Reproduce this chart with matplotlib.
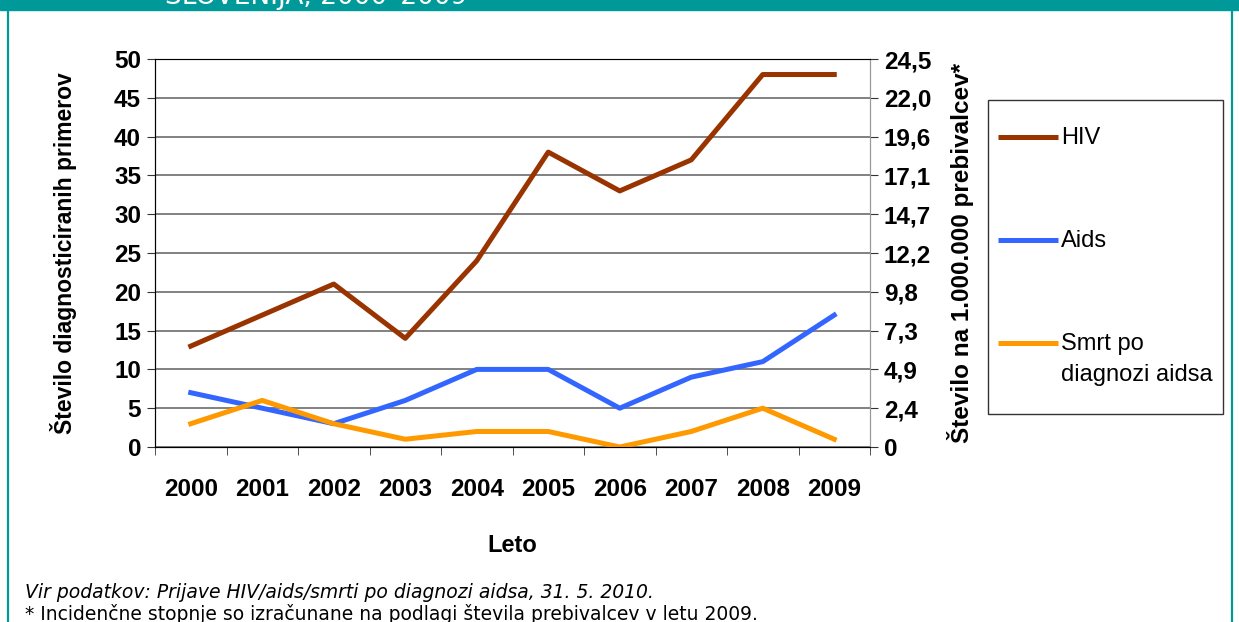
import numpy as np
import matplotlib
matplotlib.use('Agg')
from matplotlib import pyplot as plt
from matplotlib.lines import Line2D
from matplotlib.patches import Rectangle

# podatki
leta = ['2000', '2001', '2002', '2003', '2004', '2005', '2006', '2007', '2008', '2009']
hiv = [13, 17, 21, 14, 24, 38, 33, 37, 48, 48]
aids = [7, 5, 3, 6, 10, 10, 5, 9, 11, 17]
smrt = [3, 6, 3, 1, 2, 2, 0, 2, 5, 1]
levo_ticks = [0, 5, 10, 15, 20, 25, 30, 35, 40, 45, 50]
desno_labels = ['0', '2,4', '4,9', '7,3', '9,8', '12,2', '14,7', '17,1', '19,6', '22,0', '24,5']
imena = ['HIV', 'Aids', 'Smrt po\ndiagnozi aidsa']
barve = ['#993300', '#3366FF', '#FF9900']

plt.rcParams['font.family'] = ['Liberation Sans', 'DejaVu Sans']

W, H = 1239, 622
fig = plt.figure(figsize=(W / 100, H / 100), dpi=100)

def fx(px):
    return px / W

def fy(py):
    return 1 - py / H

# okvir strani
teal = '#009999'
fig.add_artist(Rectangle((0, fy(10)), 1, 10 / H, transform=fig.transFigure, color=teal, zorder=0))
fig.add_artist(Line2D([fx(8), fx(8)], [0, 1], transform=fig.transFigure, color=teal, lw=1.6))
fig.add_artist(Line2D([fx(1232), fx(1232)], [0, 1], transform=fig.transFigure, color=teal, lw=1.6))
fig.text(fx(165), fy(4), 'SLOVENIJA, 2000–2009', color='white', fontsize=19,
         family='DejaVu Sans', va='baseline', ha='left')

ax = fig.add_axes([fx(155), fy(447), fx(870) - fx(155), (447 - 59) / H])
x = np.arange(len(leta))
for serija, barva in zip([hiv, aids, smrt], barve):
    ax.plot(x, serija, color=barva, lw=3.6, zorder=3)

fs = 17.5
ax.set_xlim(-0.5, len(leta) - 0.5)
ax.set_ylim(0, 50)
ax.set_yticks(levo_ticks)
ax.set_xticks(x)
ax.set_xticklabels(leta, fontsize=fs, fontweight='bold')
ax.set_xticks(np.arange(-0.5, len(leta)), minor=True)
ax.tick_params(axis='x', which='major', length=0, pad=22)
ax.tick_params(axis='x', which='minor', length=6, color='#333333', direction='out')
ax.tick_params(axis='y', length=6, color='#333333', labelsize=fs, pad=4)
for lab in ax.get_yticklabels():
    lab.set_fontweight('bold')
ax.grid(axis='y', color='#777777', lw=1.3)
ax.set_axisbelow(True)
for s in ['left', 'bottom']:
    ax.spines[s].set_color('#333333')
for s in ['top', 'right']:
    ax.spines[s].set_color('#999999')
ax.set_ylabel('Število diagnosticiranih primerov', fontsize=16.5, fontweight='bold', labelpad=27)
ax.set_xlabel('Leto', fontsize=17, fontweight='bold', labelpad=24)

ax2 = ax.twinx()
ax2.set_ylim(0, 50)
ax2.set_yticks(levo_ticks)
ax2.set_yticklabels(desno_labels, fontsize=fs, fontweight='bold')
ax2.tick_params(axis='y', length=6, color='#333333', pad=4)
ax2.spines['right'].set_color('#999999')
ax2.set_ylabel('Število na 1.000.000 prebivalcev*', fontsize=17.5, fontweight='bold', labelpad=11)

# legenda
fig.add_artist(Rectangle((fx(988), fy(414)), fx(1223) - fx(988), (414 - 100) / H,
                         transform=fig.transFigure, fill=False, edgecolor='#333333', lw=1))
leg_y = [137, 240, 343]
for ime, barva, yy in zip(imena, barve, leg_y):
    fig.add_artist(Line2D([fx(998), fx(1058)], [fy(yy), fy(yy)], transform=fig.transFigure,
                          color=barva, lw=3.6, solid_capstyle='butt'))
    vrstice = ime.split('\n')
    for i, vr in enumerate(vrstice):
        fig.text(fx(1061), fy(yy + 1 + i * 31), vr, fontsize=17, va='center', ha='left')

fig.text(fx(25), fy(592), 'Vir podatkov: Prijave HIV/aids/smrti po diagnozi aidsa, 31. 5. 2010.',
         family='DejaVu Sans', style='italic', fontsize=13.5, va='center', ha='left')
fig.text(fx(25), fy(614), '* Incidenčne stopnje so izračunane na podlagi števila prebivalcev v letu 2009.',
         family='DejaVu Sans', fontsize=13.5, va='center', ha='left')

fig.savefig('out.png', dpi=100)
